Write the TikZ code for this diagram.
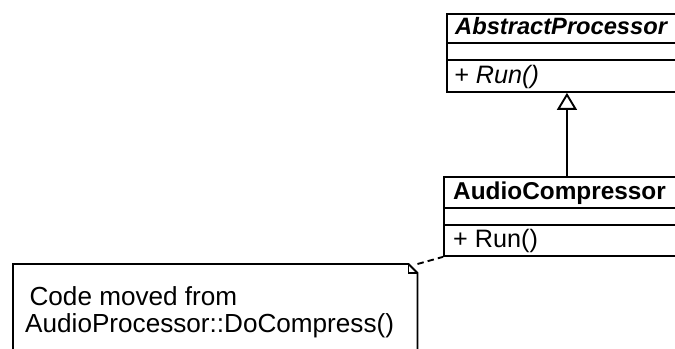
\documentclass[tikz,border=0pt]{standalone}
\usepackage{fontspec}
\setmainfont{Liberation Sans}
\usetikzlibrary{arrows.meta}

\begin{document}
\begin{tikzpicture}[x=0.03cm, y=-0.03cm]
		\tikzstyle {uml line} = [line width=1.6pt]
		\tikzstyle {class box} = [draw, uml line, rectangle, inner sep=0pt, anchor=north west]
		\tikzstyle {member} = [anchor=base west, inner sep=0pt, font=\fontsize{21.5}{25}\selectfont]
		\tikzstyle {class name} = [member, font=\fontsize{20.8}{25}\selectfont\bfseries]
		\tikzstyle {note text} = [anchor=north west, align=left, inner sep=0pt, font=\fontsize{22.3}{23}\selectfont]
		\tikzstyle {inherit} = [uml line, -{Triangle[open, length=14.5pt, width=17pt]}]
		\tikzstyle {note link} = [uml line, dash pattern=on 5.5pt off 3.5pt]

		\useasboundingbox (0,0) rectangle (675,349);
		\clip (0,0) rectangle (675,349);

		% base class
		\node[class box, minimum width=7.2cm, minimum height=2.34cm] (abs) at (446,13) {};
		\draw[uml line] (abs.west |- 0,43) -- (abs.east |- 0,43);
		\draw[uml line] (abs.west |- 0,60) -- (abs.east |- 0,60);
		\node[class name, font=\fontsize{20.2}{25}\selectfont\bfseries\itshape] (absname) at (455,35) {AbstractProcessor};
		\node[member, font=\fontsize{21.5}{25}\selectfont\itshape] (absrun) at (454,84) {+ Run()};

		% derived class
		\node[class box, minimum width=7.38cm, minimum height=2.37cm] (ac) at (443,176) {};
		\draw[uml line] (ac.west |- 0,208) -- (ac.east |- 0,208);
		\draw[uml line] (ac.west |- 0,225) -- (ac.east |- 0,225);
		\node[class name] (acname) at (453,200) {AudioCompressor};
		\node[member] (acrun) at (453,248) {+ Run()};

		\draw[inherit] (ac) -- (abs);

		% note with folded corner
		\node[inner sep=0pt, anchor=north west, minimum width=12.12cm, minimum height=3cm] (note) at (13,264) {};
		\draw[uml line] (note.south west) -- (note.north west) -- ([xshift=-7.7pt]note.north east)
			-- ([yshift=-7.7pt]note.north east) -- (note.south east);
		\draw[uml line] ([xshift=-7.7pt]note.north east) -- ([xshift=-7.7pt, yshift=-7.7pt]note.north east)
			-- ([yshift=-7.7pt]note.north east);
		\node[note text] (notetext) at (25,286) {\,Code moved from\\AudioProcessor::DoCompress()};

		\draw[note link] (note.north east) -- (ac.south west);
	\end{tikzpicture}
\end{document}
